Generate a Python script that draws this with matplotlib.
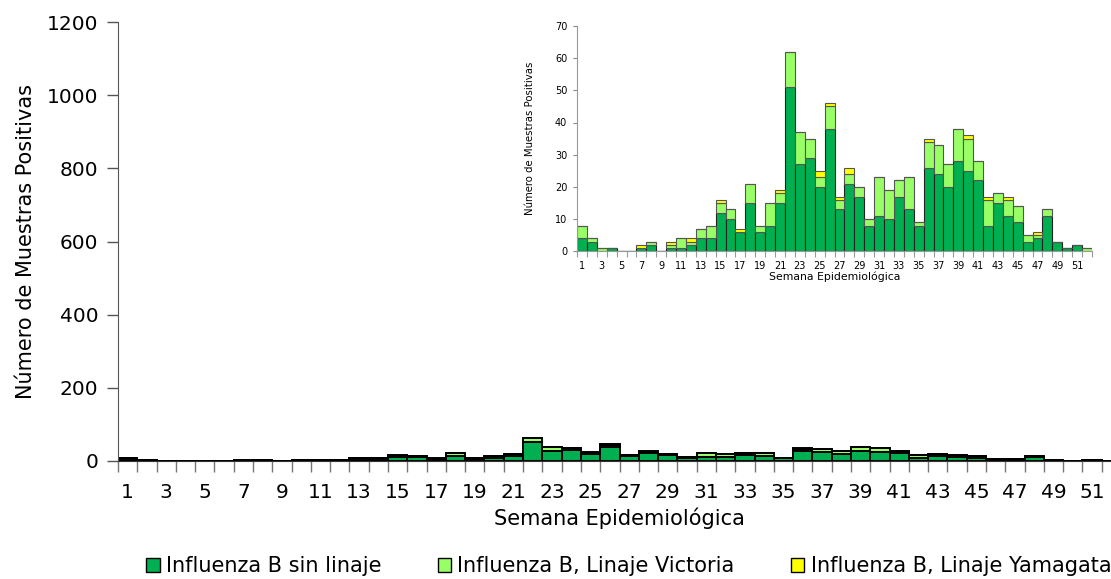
import matplotlib
matplotlib.use("Agg")
import matplotlib.pyplot as plt
import numpy as np
from matplotlib.patches import Patch

weeks = list(range(1, 53))
sin_linaje = [4, 3, 0, 1, 0, 0, 1, 2, 0, 1, 1, 2, 4, 4, 12, 10, 6, 15, 6, 8,
              15, 51, 27, 29, 20, 38, 13, 21, 17, 8, 11, 10, 17, 13, 8, 26, 24, 20, 28, 25,
              22, 8, 15, 11, 9, 3, 4, 11, 3, 1, 2, 0]
victoria = [4, 1, 1, 0, 0, 0, 0, 1, 0, 1, 3, 1, 3, 4, 3, 3, 0, 6, 2, 7,
            3, 11, 10, 6, 3, 7, 3, 3, 3, 2, 12, 9, 5, 10, 1, 8, 9, 7, 10, 10,
            6, 8, 3, 5, 5, 2, 1, 2, 0, 0, 0, 1]
yamagata = [0, 0, 0, 0, 0, 0, 1, 0, 0, 1, 0, 1, 0, 0, 1, 0, 1, 0, 0, 0,
            1, 0, 0, 0, 2, 1, 1, 2, 0, 0, 0, 0, 0, 0, 0, 1, 0, 0, 0, 1,
            0, 1, 0, 1, 0, 0, 1, 0, 0, 0, 0, 0]
labels = ["Influenza B sin linaje", "Influenza B, Linaje Victoria", "Influenza B, Linaje Yamagata"]
colors = ["#00B050", "#99FF66", "#FFFF00"]

main_yticks = [0, 200, 400, 600, 800, 1000, 1200]
inset_yticks = [0, 10, 20, 30, 40, 50, 60, 70]
odd_weeks = [w for w in weeks if w % 2 == 1]

plt.rcParams['font.family'] = ['DejaVu Sans']
fig = plt.figure(figsize=(11.11, 5.79), dpi=100)

x = np.array(weeks)
s1 = np.array(sin_linaje)
s2 = np.array(victoria)
s3 = np.array(yamagata)

# Main axes
ax = fig.add_axes([118/1111, 1-461/579, (1121-118)/1111, (461-22)/579])
ax.bar(x, s1, width=1.0, color=colors[0], edgecolor="black", linewidth=1.4)
ax.bar(x, s2, bottom=s1, width=1.0, color=colors[1], edgecolor="black", linewidth=1.4)
ax.bar(x, s3, bottom=s1+s2, width=1.0, color=colors[2], edgecolor="black", linewidth=1.4)
ax.set_xlim(0.5, 52.5)
ax.set_ylim(0, 1200)
ax.set_yticks(main_yticks)
ax.tick_params(axis='y', labelsize=14.5, length=8, width=1, color="#555555", pad=6)
ax.set_xticks(np.arange(0.5, 53.0, 1.0))
ax.set_xticklabels([])
ax.tick_params(axis='x', which='major', length=8, width=1, color="#777777")
ax.set_xticks(odd_weeks, minor=True)
ax.set_xticklabels([str(w) for w in odd_weeks], minor=True)
ax.tick_params(axis='x', which='minor', length=0, labelsize=14.5, pad=16)
for sp in ['top', 'right']:
    ax.spines[sp].set_visible(False)
ax.spines['left'].set_color("#555555")
ax.spines['bottom'].set_color("#333333")
ax.set_ylabel("Número de Muestras Positivas", fontsize=15, labelpad=8)
ax.set_xlabel("Semana Epidemiológica", fontsize=15, labelpad=4)

# Inset axes
ia = fig.add_axes([577/1111, 1-251.3/579, (1092-577)/1111, (251.3-25.9)/579])
ia.bar(x, s1, width=1.0, color=colors[0], edgecolor="#222222", linewidth=0.8)
ia.bar(x, s2, bottom=s1, width=1.0, color=colors[1], edgecolor="#555555", linewidth=0.8)
ia.bar(x, s3, bottom=s1+s2, width=1.0, color=colors[2], edgecolor="#555555", linewidth=0.8)
ia.set_xlim(0.5, 52.5)
ia.set_ylim(0, 70)
ia.set_yticks(inset_yticks)
ia.tick_params(axis='y', labelsize=7, length=3, width=0.8, color="#888888", pad=4)
ia.set_xticks(np.arange(0.5, 53.0, 1.0))
ia.set_xticklabels([])
ia.tick_params(axis='x', which='major', length=4, width=0.8, color="#999999")
ia.set_xticks(odd_weeks, minor=True)
ia.set_xticklabels([str(w) for w in odd_weeks], minor=True)
ia.tick_params(axis='x', which='minor', length=0, labelsize=7, pad=7)
for sp in ['top', 'right']:
    ia.spines[sp].set_visible(False)
ia.spines['left'].set_color("#999999")
ia.spines['bottom'].set_color("#999999")
ia.set_ylabel("Número de Muestras Positivas", fontsize=7.3, labelpad=14)
ia.set_xlabel("Semana Epidemiológica", fontsize=7.8, labelpad=0)

handles = [Patch(facecolor=c, edgecolor="black", linewidth=1.0) for c in colors]
fig.legend(handles, labels, loc='center left', bbox_to_anchor=(146/1111, 1-566/579),
           ncol=3, frameon=False, fontsize=15, handlelength=0.65, handleheight=0.65,
           handletextpad=0.3, columnspacing=2.7, borderpad=0, borderaxespad=0)

fig.savefig("out.png", dpi=100)
